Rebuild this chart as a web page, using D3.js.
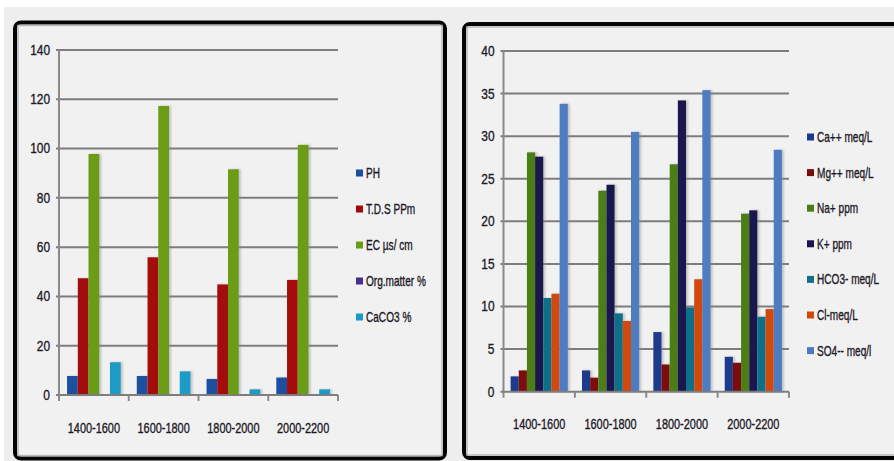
<!DOCTYPE html>
<html>
<head>
<meta charset="utf-8">
<script src="https://cdn.jsdelivr.net/npm/d3@7"></script>
<style>
  html, body { margin: 0; padding: 0; background: #ffffff; }
  svg { display: block; }
  text { font-family: "Liberation Sans", Arial, sans-serif; fill: #1e1a28; stroke: #1e1a28; stroke-width: 0.35; }
</style>
</head>
<body>
<svg id="chart" width="894" height="461"></svg>
<script>
// ---------- DATA ----------
const categories = ["1400-1600", "1600-1800", "1800-2000", "2000-2200"];

// Left chart (soil properties)
const leftSeries = ["PH", "T.D.S PPm", "EC µs/ cm", "Org.matter %", "CaCO3 %"];
const phValues      = [7.7, 7.7, 6.5, 7.1];
const tdsValues     = [47.4, 55.9, 44.9, 46.7];
const ecValues      = [97.8, 117.3, 91.6, 101.5];
const orgValues     = [0, 0, 0, 0];
const caco3Values   = [13.3, 9.6, 2.3, 2.3];
const leftTicks     = [0, 20, 40, 60, 80, 100, 120, 140];

// Right chart (ions)
const rightSeries = ["Ca++ meq/L", "Mg++ meq/L", "Na+ ppm", "K+ ppm", "HCO3- meq/L", "Cl-meq/L", "SO4-- meq/l"];
const caValues    = [1.8, 2.5, 7.0, 4.1];
const mgValues    = [2.5, 1.65, 3.2, 3.4];
const naValues    = [28.1, 23.6, 26.7, 20.9];
const kValues     = [27.6, 24.3, 34.2, 21.3];
const hco3Values  = [11.0, 9.2, 9.9, 8.8];
const clValues    = [11.5, 8.3, 13.2, 9.7];
const so4Values   = [33.8, 30.5, 35.4, 28.4];
const rightTicks  = [0, 5, 10, 15, 20, 25, 30, 35, 40];

// ---------- STYLE ----------
const leftColors  = ["#1c4fa0", "#a50a0a", "#6a9c14", "#4a2d8c", "#1a9bc7"];
const rightColors = ["#1a3a8c", "#7b0c0c", "#4b7f15", "#1c1550", "#10708a", "#d2480c", "#4d7bc0"];

const svg = d3.select("#chart");

// page background
svg.append("rect").attr("x", 0).attr("y", 0).attr("width", 894).attr("height", 461).attr("fill", "#ffffff");
svg.append("rect").attr("x", 4).attr("y", 7).attr("width", 890).attr("height", 454).attr("fill", "#eeeeee");

const defs = svg.append("defs");
const f = defs.append("filter").attr("id", "shadow").attr("x", "-30%").attr("y", "-10%").attr("width", "180%").attr("height", "120%");
f.append("feDropShadow").attr("dx", 2).attr("dy", 0).attr("stdDeviation", 1).attr("flood-color", "#888").attr("flood-opacity", 0.45);

function panel(x, y, w, h) {
  svg.append("rect").attr("x", x).attr("y", y).attr("width", w).attr("height", h)
    .attr("rx", 6).attr("fill", "#f1f1f1").attr("stroke", "#050505").attr("stroke-width", 4);
  svg.append("rect").attr("x", x + 3).attr("y", y + 3).attr("width", w - 6).attr("height", h - 6)
    .attr("fill", "none").attr("stroke", "#b8b8b8").attr("stroke-width", 1.5);
}

panel(15, 22.5, 430, 436);
panel(464, 24, 450, 434);

// condensed text helper (Calibri-like narrow look)
function ctext(sel, x, y, sx, anchor, size, txt) {
  sel.append("text")
    .attr("transform", `translate(${x},${y}) scale(${sx},1)`)
    .attr("dy", "0.35em")
    .attr("text-anchor", anchor)
    .attr("font-size", size)
    .text(txt);
}

function drawChart(cfg) {
  const { values, series, colors, ticks, yMax, x0, x1, yTop, yBottom, legendX, legendY, legendStep, labelY, padOuter } = cfg;
  const g = svg.append("g");
  const y = d3.scaleLinear().domain([0, yMax]).range([yBottom, yTop]);
  const xg = d3.scaleBand().domain(categories).range([x0, x1]).paddingInner(0).paddingOuter(0);
  const xs = d3.scaleBand().domain(series).range([0, xg.bandwidth()]).paddingInner(0).paddingOuter(padOuter);

  // gridlines
  g.selectAll("line.grid").data(ticks.filter(t => t > 0)).enter().append("line")
    .attr("x1", x0 - 3).attr("x2", x1)
    .attr("y1", d => y(d)).attr("y2", d => y(d))
    .attr("stroke", "#7d7d7d").attr("stroke-width", 2);

  // y axis line
  g.append("line").attr("x1", x0).attr("x2", x0).attr("y1", yTop).attr("y2", yBottom)
    .attr("stroke", "#8a8a8a").attr("stroke-width", 2);

  // y tick labels
  ticks.forEach(t => ctext(g, x0 - 9, y(t), 0.85, "end", 14, t));

  // bars
  const rows = [];
  categories.forEach((c, i) => {
    series.forEach((s, j) => rows.push({ c, s, v: values[j][i], color: colors[j] }));
  });
  g.selectAll("rect.bar").data(rows.filter(r => r.v > 0)).enter().append("rect")
    .attr("x", d => xg(d.c) + xs(d.s))
    .attr("y", d => y(d.v))
    .attr("width", xs.bandwidth())
    .attr("height", d => y(0) - y(d.v))
    .attr("fill", d => d.color)
    .attr("filter", "url(#shadow)");

  // x axis line
  g.append("line").attr("x1", x0 - 3).attr("x2", x1).attr("y1", yBottom).attr("y2", yBottom)
    .attr("stroke", "#7d7d7d").attr("stroke-width", 2);
  // x axis ticks at category boundaries
  const bounds = categories.map(c => xg(c)).concat([x1]);
  g.selectAll("line.xt").data(bounds).enter().append("line")
    .attr("x1", d => d).attr("x2", d => d).attr("y1", yBottom).attr("y2", yBottom + 6)
    .attr("stroke", "#8a8a8a").attr("stroke-width", 2);

  // x labels
  categories.forEach(c => ctext(g, xg(c) + xg.bandwidth() / 2, labelY, 0.78, "middle", 14, c));

  // legend
  series.forEach((s, i) => {
    const ly = legendY + i * legendStep;
    g.append("rect").attr("x", legendX).attr("y", ly - 3.5).attr("width", 7).attr("height", 7)
      .attr("fill", colors[i]);
    ctext(g, legendX + 10, ly, 0.72, "start", 14, s);
  });
}

drawChart({
  values: [phValues, tdsValues, ecValues, orgValues, caco3Values],
  series: leftSeries, colors: leftColors, ticks: leftTicks, yMax: 140,
  x0: 59, x1: 338, yTop: 50, yBottom: 395,
  legendX: 356, legendY: 173, legendStep: 36, labelY: 428, padOuter: 0.75
});

drawChart({
  values: [caValues, mgValues, naValues, kValues, hco3Values, clValues, so4Values],
  series: rightSeries, colors: rightColors, ticks: rightTicks, yMax: 40,
  x0: 503.5, x1: 789, yTop: 51, yBottom: 391.7,
  legendX: 807, legendY: 137, legendStep: 35.6, labelY: 424, padOuter: 0.87
});
</script>
</body>
</html>
